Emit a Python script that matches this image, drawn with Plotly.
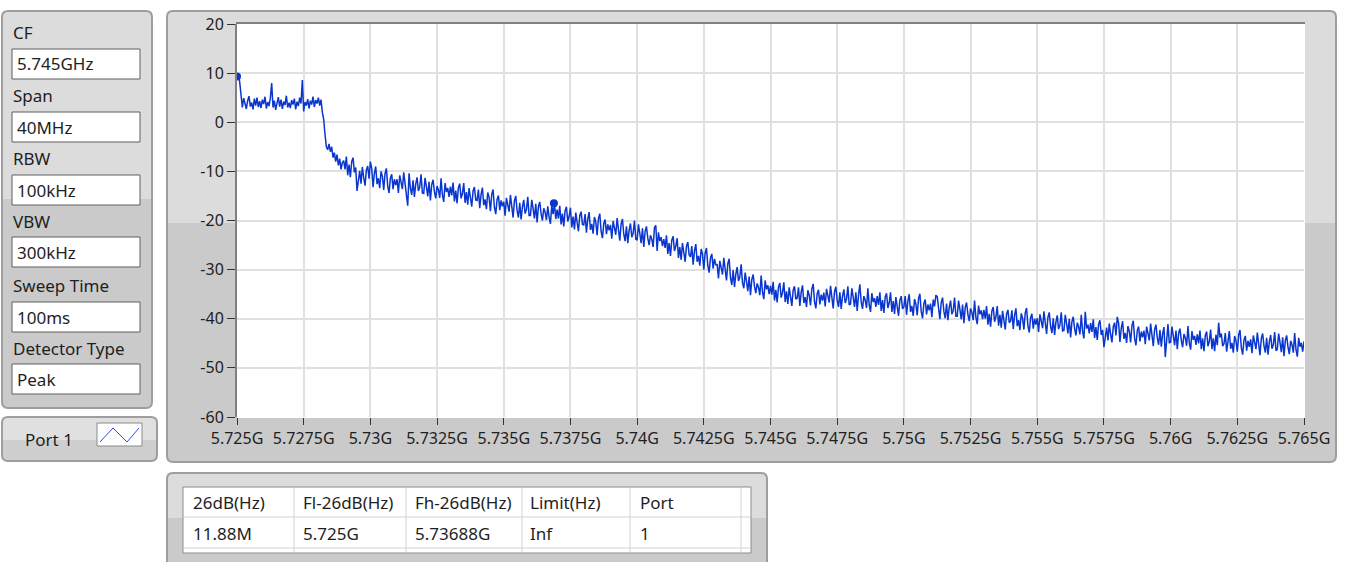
import plotly.graph_objects as go

W, H = 1346, 562

# ---------------- data ----------------
sweep_start_ghz = 5.725
sweep_step_ghz = 0.00005
level_dbm = [
    # 5.725 - 5.729 GHz
    9.5, 9.6, 8.2, 4.6, 3.0, 4.9, 3.6, 2.7, 4.4, 5.3, 3.2, 4.0, 2.6, 4.8, 3.4, 5.0, 3.1, 4.3, 2.9, 4.6,
    3.7, 5.2, 2.8, 4.1, 3.3, 4.9, 8.0, 3.0, 4.4, 2.5, 3.9, 5.1, 3.2, 4.6, 2.7, 4.2, 3.5, 5.4, 3.0, 4.0,
    2.9, 4.5, 3.6, 4.8, 2.6, 4.2, 3.3, 5.0, 3.8, 8.6, 2.2, 4.1, 3.4, 4.7, 2.8, 4.4, 3.6, 5.2, 3.1, 4.5,
    3.8, 5.0, 3.4, 4.6, 2.0, 0.6, -2.5, -5.0, -5.6, -4.4, -6.0, -5.0, -7.2, -6.2, -8.0, -6.6, -8.8, -7.4, -9.6, -8.2,
    -7.8, -9.6, -7.0, -10.8, -8.6, -11.2, -8.0, -7.2, -10.2, -9.2, -14.0, -12.1, -9.9, -12.5, -9.1, -11.3, -12.9, -9.7, -8.9, -11.5,
    # 5.730 - 5.734 GHz
    -8.0, -9.4, -13.2, -10.4, -9.0, -12.6, -11.4, -13.4, -10.0, -11.0, -13.8, -10.4, -9.4, -13.0, -14.4, -11.4, -10.6, -13.6, -11.6, -12.8,
    -11.6, -14.4, -10.8, -12.2, -13.6, -10.2, -13.2, -14.8, -17.0, -10.4, -13.4, -14.8, -11.8, -15.2, -12.6, -11.2, -14.0, -13.2, -10.6, -14.4,
    -14.5, -11.3, -13.1, -15.1, -12.1, -15.9, -12.7, -11.7, -14.1, -15.5, -13.0, -13.8, -15.4, -11.4, -14.8, -16.2, -12.4, -14.2, -13.4, -15.2,
    -13.1, -14.9, -12.3, -16.1, -13.9, -16.5, -13.3, -12.5, -15.5, -14.5, -12.4, -16.4, -14.2, -16.8, -13.4, -15.6, -17.2, -14.0, -13.2, -15.8,
    -15.9, -13.7, -17.5, -14.7, -13.3, -16.9, -15.7, -17.7, -14.3, -15.3, -18.1, -14.7, -13.7, -17.3, -18.7, -15.7, -14.9, -17.9, -15.9, -17.1,
    # 5.735 - 5.739 GHz
    -16.2, -19.0, -15.4, -16.8, -18.2, -14.8, -17.8, -19.4, -16.0, -15.0, -18.0, -19.4, -16.4, -19.8, -17.2, -15.8, -18.6, -17.8, -15.2, -19.0,
    -19.0, -15.8, -17.6, -19.6, -16.6, -20.4, -17.2, -16.2, -18.6, -20.0, -17.5, -18.3, -19.9, -17.1, -19.3, -20.7, -16.9, -18.7, -16.5, -19.7,
    -17.8, -19.6, -17.0, -20.8, -18.6, -21.2, -18.0, -17.2, -20.2, -19.2, -17.4, -21.4, -19.2, -21.8, -18.4, -20.6, -22.2, -19.0, -18.2, -20.8,
    -20.9, -18.7, -22.5, -19.7, -18.3, -21.9, -20.7, -22.7, -19.3, -20.3, -23.0, -19.6, -18.6, -22.2, -23.6, -20.6, -19.8, -22.8, -20.8, -22.0,
    -20.9, -23.7, -20.1, -21.5, -22.9, -19.5, -22.5, -24.1, -20.7, -19.7, -22.8, -24.2, -21.2, -24.6, -22.0, -20.6, -23.4, -22.6, -20.0, -23.8,
    # 5.740 - 5.744 GHz
    -24.0, -20.8, -22.6, -24.6, -21.6, -25.4, -22.2, -21.2, -23.6, -25.0, -23.0, -23.8, -25.4, -21.4, -21.0, -26.2, -22.4, -24.2, -23.4, -25.2,
    -23.8, -25.6, -23.0, -26.8, -24.6, -27.2, -24.0, -23.2, -26.2, -25.2, -23.6, -27.6, -25.4, -28.0, -24.6, -26.8, -28.4, -25.2, -24.4, -27.0,
    -27.4, -25.2, -29.0, -26.2, -24.8, -28.4, -27.2, -29.2, -25.8, -26.8, -30.0, -26.6, -25.6, -29.2, -30.6, -27.6, -26.8, -29.8, -27.8, -29.0,
    -29.0, -31.8, -28.2, -29.6, -31.0, -27.6, -30.6, -32.2, -28.8, -27.8, -31.7, -33.1, -30.1, -33.5, -30.9, -29.5, -32.3, -31.5, -28.9, -32.7,
    -33.8, -30.6, -32.4, -34.4, -31.4, -35.2, -32.0, -31.0, -33.4, -34.8, -32.8, -33.6, -35.2, -31.2, -34.6, -36.0, -32.2, -34.0, -33.2, -35.0,
    # 5.745 - 5.749 GHz
    -33.3, -35.1, -32.5, -36.3, -34.1, -36.7, -33.5, -32.7, -35.7, -34.7, -32.6, -36.6, -34.4, -37.0, -33.6, -35.8, -37.4, -34.2, -33.4, -36.0,
    -35.8, -33.6, -37.4, -34.6, -33.2, -36.8, -35.6, -37.6, -34.2, -35.2, -37.3, -33.9, -32.9, -36.5, -37.9, -34.9, -34.1, -37.1, -35.1, -36.3,
    -34.7, -37.5, -33.9, -35.3, -36.7, -33.3, -36.3, -37.9, -34.5, -33.5, -36.2, -37.6, -34.6, -38.0, -35.4, -34.0, -36.8, -36.0, -33.4, -37.2,
    -37.0, -33.8, -35.6, -37.6, -34.6, -38.4, -35.2, -33.0, -36.6, -38.0, -35.4, -36.2, -37.8, -33.8, -37.2, -38.6, -34.8, -36.6, -35.8, -37.6,
    -35.4, -37.2, -34.6, -38.4, -36.2, -38.8, -35.6, -34.8, -37.8, -36.8, -34.6, -38.6, -36.4, -39.0, -35.6, -37.8, -39.4, -36.2, -35.4, -38.0,
    # 5.750 - 5.754 GHz
    -37.6, -35.4, -39.2, -36.4, -35.0, -38.6, -37.4, -39.4, -36.0, -37.0, -39.3, -35.9, -34.9, -38.5, -39.9, -36.9, -36.1, -39.1, -37.1, -38.3,
    -36.9, -39.7, -36.1, -37.5, -35.2, -35.5, -38.5, -40.1, -36.7, -35.7, -38.5, -39.9, -36.9, -40.3, -37.7, -36.3, -39.1, -38.3, -35.7, -39.5,
    -39.5, -36.3, -38.1, -40.1, -37.1, -40.9, -37.7, -36.7, -39.1, -40.5, -37.9, -38.7, -40.3, -36.3, -39.7, -41.1, -37.3, -39.1, -38.3, -40.1,
    -38.2, -40.0, -37.4, -41.2, -39.0, -41.6, -38.4, -37.6, -40.6, -39.6, -37.4, -41.4, -39.2, -41.8, -38.4, -40.6, -42.2, -39.0, -38.2, -40.8,
    -40.5, -38.3, -42.1, -39.3, -37.9, -41.5, -40.3, -42.3, -38.9, -39.9, -42.2, -38.8, -37.8, -41.4, -42.8, -39.8, -39.0, -42.0, -40.0, -41.2,
    # 5.755 - 5.759 GHz
    -39.9, -42.7, -39.1, -40.5, -41.9, -38.5, -41.5, -43.1, -39.7, -38.7, -41.5, -42.9, -39.9, -43.3, -40.7, -39.3, -42.1, -41.3, -38.7, -42.5,
    -42.4, -39.2, -41.0, -43.0, -40.0, -43.8, -40.6, -39.6, -42.0, -43.4, -40.8, -41.6, -43.2, -39.2, -42.6, -44.0, -38.6, -42.0, -41.2, -43.0,
    -40.9, -42.7, -40.1, -43.9, -41.7, -44.3, -41.1, -40.3, -43.3, -42.3, -45.8, -44.0, -41.8, -44.4, -41.0, -43.2, -44.8, -41.6, -40.8, -43.4,
    -39.6, -40.9, -44.7, -41.9, -40.5, -44.1, -42.9, -44.9, -41.5, -42.5, -44.8, -41.4, -40.4, -44.0, -45.4, -42.4, -41.6, -44.6, -42.6, -43.8,
    -42.4, -45.2, -41.6, -43.0, -44.4, -41.0, -44.0, -45.6, -42.2, -41.2, -43.9, -45.3, -42.3, -45.7, -43.1, -41.7, -47.8, -43.7, -41.1, -44.9,
    # 5.760 - 5.765 GHz
    -44.8, -41.6, -43.4, -45.4, -42.4, -46.2, -43.0, -42.0, -44.4, -45.8, -43.1, -43.9, -45.5, -41.5, -44.9, -46.3, -42.5, -44.3, -43.5, -45.3,
    -43.2, -45.0, -42.4, -46.2, -44.0, -46.6, -43.4, -42.6, -45.6, -44.6, -42.2, -46.2, -44.0, -46.6, -43.2, -45.4, -40.8, -43.8, -43.0, -45.6,
    -45.1, -42.9, -46.7, -43.9, -42.5, -46.1, -44.9, -46.9, -43.5, -44.5, -46.7, -43.3, -42.3, -45.9, -47.3, -44.3, -43.5, -46.5, -44.5, -45.7,
    -44.2, -47.0, -43.4, -44.8, -46.2, -42.8, -45.8, -47.4, -44.0, -43.0, -45.5, -46.9, -43.9, -47.3, -44.7, -43.3, -46.1, -45.3, -42.7, -46.5,
    -46.2, -43.0, -44.8, -46.8, -43.8, -47.6, -44.4, -43.4, -45.8, -47.2, -44.5, -45.3, -46.9, -42.9, -46.3, -47.7, -43.9, -45.7, -44.9, -46.7,
    -44.6,
]
freq_ghz = [round(sweep_start_ghz + i * sweep_step_ghz, 7) for i in range(len(level_dbm))]

marker_freq_ghz = [5.725, 5.73688]
marker_level_dbm = [9.3, -16.5]

x_tick_vals = [5.725, 5.7275, 5.73, 5.7325, 5.735, 5.7375, 5.74, 5.7425, 5.745,
               5.7475, 5.75, 5.7525, 5.755, 5.7575, 5.76, 5.7625, 5.765]
x_tick_text = ["5.725G", "5.7275G", "5.73G", "5.7325G", "5.735G", "5.7375G", "5.74G",
               "5.7425G", "5.745G", "5.7475G", "5.75G", "5.7525G", "5.755G", "5.7575G",
               "5.76G", "5.7625G", "5.765G"]
y_tick_vals = [20, 10, 0, -10, -20, -30, -40, -50, -60]
y_tick_text = ["20", "10", "0", "-10", "-20", "-30", "-40", "-50", "-60"]

settings_labels = ["CF", "Span", "RBW", "VBW", "Sweep Time", "Detector Type"]
settings_values = ["5.745GHz", "40MHz", "100kHz", "300kHz", "100ms", "Peak"]

port_label = "Port 1"
table_header = ["26dB(Hz)", "Fl-26dB(Hz)", "Fh-26dB(Hz)", "Limit(Hz)", "Port"]
table_row = ["11.88M", "5.725G", "5.73688G", "Inf", "1"]

# ---------------- helpers (pixel -> paper) ----------------
FONT = "Noto Sans, Segoe UI, sans-serif"
TXT = "#1e1e1e"
TRACE = "#0A36D0"


def X(px):
    return px / W


def Y(py):
    return 1 - py / H


def rrect_path(x0, y0, x1, y1, r, top=True, bottom=True):
    rt = r if top else 0
    rb = r if bottom else 0
    pts = [
        ("M", [(x0 + rt, y0)]), ("L", [(x1 - rt, y0)]), ("Q", [(x1, y0), (x1, y0 + rt)]),
        ("L", [(x1, y1 - rb)]), ("Q", [(x1, y1), (x1 - rb, y1)]), ("L", [(x0 + rb, y1)]),
        ("Q", [(x0, y1), (x0, y1 - rb)]), ("L", [(x0, y0 + rt)]), ("Q", [(x0, y0), (x0 + rt, y0)]),
    ]
    s = ""
    for cmd, ps in pts:
        s += cmd + " " + " ".join(f"{X(a):.6f},{Y(b):.6f}" for a, b in ps) + " "
    return s + "Z"


shapes = []


def add_path(path, fill=None, line=None, width=1):
    shapes.append(dict(type="path", path=path, xref="paper", yref="paper",
                       fillcolor=fill if fill else "rgba(0,0,0,0)",
                       line=dict(color=line if line else "rgba(0,0,0,0)", width=width if line else 0),
                       layer="below"))


def add_rect(x0, y0, x1, y1, fill=None, line=None, width=1):
    shapes.append(dict(type="rect", xref="paper", yref="paper",
                       x0=X(x0), x1=X(x1), y0=Y(y1), y1=Y(y0),
                       fillcolor=fill if fill else "rgba(0,0,0,0)",
                       line=dict(color=line if line else "rgba(0,0,0,0)", width=width if line else 0),
                       layer="below"))


def add_line(x0, y0, x1, y1, color, width=1):
    shapes.append(dict(type="line", xref="paper", yref="paper",
                       x0=X(x0), x1=X(x1), y0=Y(y0), y1=Y(y1),
                       line=dict(color=color, width=width), layer="below"))


LIGHT = "#DCDCDC"
DARK = "#CACACA"
EDGE = "#9E9E9E"
LABEL_SIZE = 17

# left settings panel
add_path(rrect_path(2, 11, 152, 408, 6), fill=DARK)
add_path(rrect_path(2, 11, 152, 199, 6, bottom=False), fill=LIGHT)
add_path(rrect_path(2, 11, 152, 408, 6), line=EDGE, width=2)

annotations = []
label_y = [32, 95, 158, 222, 285, 348]
box_top = [49, 112, 175, 237, 302, 364]
for lab, val, ly, bt in zip(settings_labels, settings_values, label_y, box_top):
    annotations.append(dict(x=X(11), y=Y(ly), xref="paper", yref="paper", text=lab,
                            showarrow=False, xanchor="left", yanchor="middle",
                            font=dict(family=FONT, size=LABEL_SIZE, color=TXT)))
    add_rect(12, bt, 140, bt + 30, fill="white", line="#5E5E5E", width=1)
    annotations.append(dict(x=X(15), y=Y(bt + 15), xref="paper", yref="paper", text=val,
                            showarrow=False, xanchor="left", yanchor="middle",
                            font=dict(family=FONT, size=LABEL_SIZE, color=TXT)))

# port 1 box
add_path(rrect_path(2, 417, 157, 461, 6), fill="#CFCFCF")
add_path(rrect_path(2, 417, 157, 440, 6, bottom=False), fill="#E0E0E0")
add_path(rrect_path(2, 417, 157, 461, 6), line=EDGE, width=2)
add_rect(97, 423, 142, 446, fill="white", line="#8A8A8A", width=1)
zig = "M {},{} L {},{} L {},{} L {},{}".format(
    f"{X(100):.6f}", f"{Y(442):.6f}", f"{X(113):.6f}", f"{Y(428):.6f}",
    f"{X(127):.6f}", f"{Y(442):.6f}", f"{X(139):.6f}", f"{Y(428):.6f}")
shapes.append(dict(type="path", path=zig, xref="paper", yref="paper",
                   line=dict(color="#2B4FD8", width=1), layer="below"))
annotations.append(dict(x=X(49), y=Y(439), xref="paper", yref="paper", text=port_label,
                        showarrow=False, xanchor="center", yanchor="middle",
                        font=dict(family=FONT, size=LABEL_SIZE, color=TXT)))

# graph frame
add_path(rrect_path(167, 11, 1336, 462, 6), fill=DARK)
add_path(rrect_path(167, 11, 1336, 223, 6, bottom=False), fill=LIGHT)
add_path(rrect_path(167, 11, 1336, 462, 6), line=EDGE, width=2)
# plot area
add_rect(237, 23, 1305, 418, fill="white")
add_line(236, 23, 1305, 23, "#808080", 2)

# table frame
add_path(rrect_path(167, 473, 767, 590, 6), fill=DARK)
add_path(rrect_path(167, 473, 767, 518, 6, bottom=False), fill=LIGHT)
add_path(rrect_path(167, 473, 767, 590, 6), line=EDGE, width=2)
add_rect(183, 487, 751, 553, fill="white", line="#8C8C8C", width=1)
add_line(184, 517, 750, 517, "#D2D2D2", 1)
add_line(184, 548, 750, 548, "#D2D2D2", 1)
col_lines = [294, 406, 522, 630, 741]
for cx in col_lines:
    add_line(cx, 488, cx, 552, "#D2D2D2", 1)
col_text_x = [191, 301, 413, 528, 638]
for tx, h, v in zip(col_text_x, table_header, table_row):
    annotations.append(dict(x=X(tx), y=Y(502), xref="paper", yref="paper", text=h,
                            showarrow=False, xanchor="left", yanchor="middle",
                            font=dict(family=FONT, size=LABEL_SIZE, color=TXT)))
    annotations.append(dict(x=X(tx), y=Y(533), xref="paper", yref="paper", text=v,
                            showarrow=False, xanchor="left", yanchor="middle",
                            font=dict(family=FONT, size=LABEL_SIZE, color=TXT)))

# ---------------- figure ----------------
fig = go.Figure()
fig.add_trace(go.Scatter(x=freq_ghz, y=level_dbm, mode="lines",
                         line=dict(color=TRACE, width=1.5), hoverinfo="skip"))
fig.add_trace(go.Scatter(x=marker_freq_ghz, y=marker_level_dbm, mode="markers",
                         marker=dict(color=TRACE, size=8, symbol="circle"), hoverinfo="skip"))

fig.update_layout(
    width=W, height=H, autosize=False,
    margin=dict(l=0, r=0, t=0, b=0, pad=0, autoexpand=False),
    paper_bgcolor="white", plot_bgcolor="rgba(0,0,0,0)",
    showlegend=False,
    shapes=shapes, annotations=annotations,
    xaxis=dict(domain=[X(237), X(1304)], range=[5.725, 5.765], automargin=False,
               tickvals=x_tick_vals, ticktext=x_tick_text,
               showgrid=True, gridcolor="#E0E0E0", gridwidth=2,
               ticks="outside", ticklen=7, tickcolor="#333333", tickwidth=1,
               showline=False, zeroline=False,
               tickfont=dict(family=FONT, size=16, color=TXT)),
    yaxis=dict(domain=[Y(417), Y(24)], range=[-60, 20], automargin=False,
               tickvals=y_tick_vals, ticktext=y_tick_text,
               showgrid=True, gridcolor="#E0E0E0", gridwidth=2,
               ticks="outside", ticklen=8, tickcolor="#333333", tickwidth=1,
               showline=True, linecolor="#808080", linewidth=2, zeroline=False,
               tickfont=dict(family=FONT, size=16, color=TXT)),
)

fig.write_html("out.html", config={"displayModeBar": False},
               post_script="document.body.style.margin='0';document.body.style.overflow='hidden';")
